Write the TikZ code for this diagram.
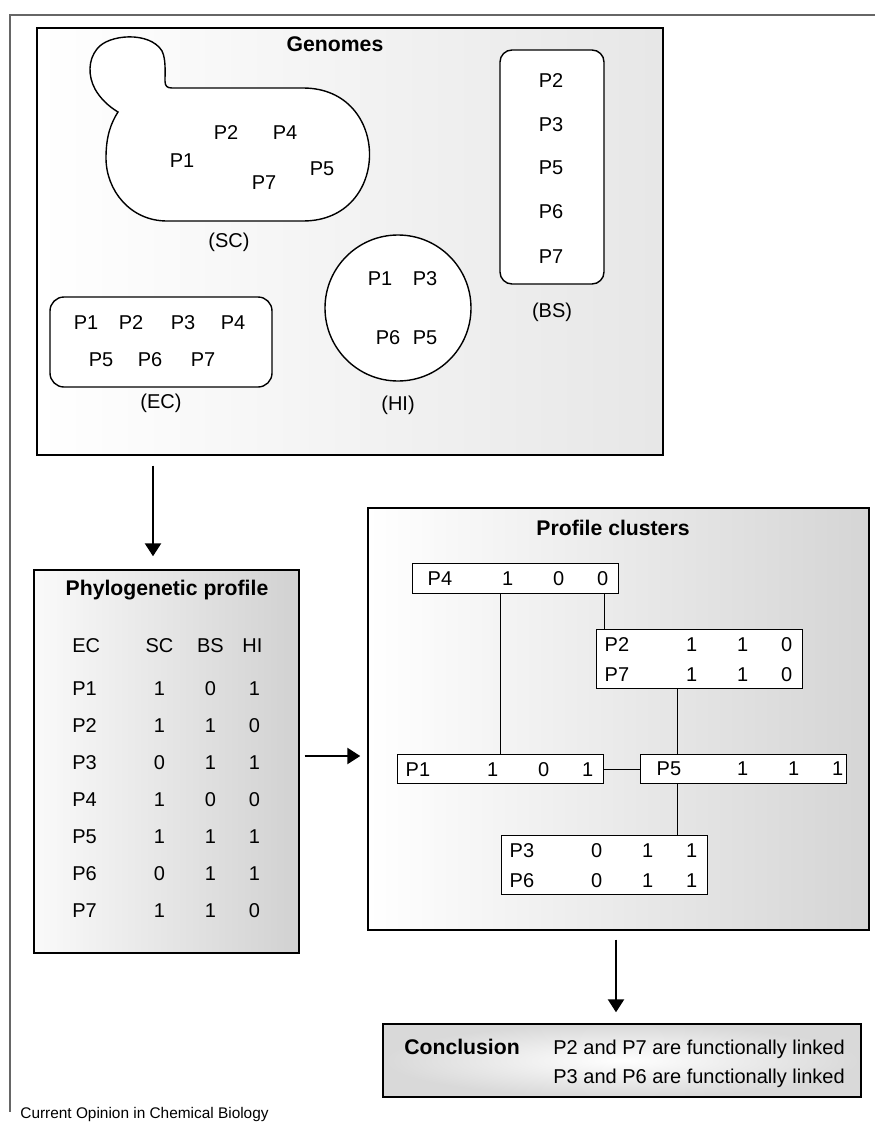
\documentclass[tikz,border=0pt]{standalone}
\usepackage{fontspec}
\setmainfont{Liberation Sans}
\usepackage{tikz}
\usetikzlibrary{positioning,arrows.meta}

% one row of a profile: label, then the three columns SC, BS, HI
\newcommand{\profrow}[5][4pt]{\makebox[47.5pt][l]{\hspace{#1}#2}\makebox[0pt]{#3}\hspace{25.5pt}\makebox[0pt]{#4}\hspace{22pt}\makebox[0pt]{#5}}

\begin{document}
\begin{tikzpicture}[
  x=0.5pt, y=-0.5pt,
  every node/.style={font=\fontsize{10}{15}\selectfont},
  lbl/.style={inner sep=0pt},
  ttl/.style={inner sep=0pt, font=\fontsize{10.6}{12}\selectfont\bfseries},
  panel/.style={draw=black, line width=0.7pt, inner sep=0pt},
  genbox/.style={draw=black, fill=white, line width=0.7pt, inner sep=0pt},
  cell/.style={draw=black, fill=white, line width=0.7pt},
  clbox/.style={draw=black, fill=white, line width=0.7pt, anchor=north west,
    inner xsep=0pt, inner ysep=0pt, text width=103pt, align=left},
  link/.style={draw=black, line width=0.7pt},
  arr/.style={-{Triangle[width=8pt,length=6.5pt]}, line width=1.2pt},
  figframe/.style={draw=black!60, line width=0.8pt},
]
\useasboundingbox (0,0) rectangle (875,1124);

% --- Outer frame ---
\draw[figframe] (875,15) -- (10,15) -- (10,1112);

% --- Genomes panel ---
\node[panel, left color=white, right color=gray!19,
  minimum width=313pt, minimum height=213.5pt] (genomes) at (350,241.5) {};
\node[ttl] (genttl) at (335,44) {Genomes};

% yeast cell (SC)
\draw[cell] (172,88) -- (303,88)
  .. controls (391.7,88) and (391.7,221) .. (303,221) -- (167,221)
  .. controls (130,221) and (106,190) .. (106,158)
  .. controls (106,136) and (111,123) .. (118,112)
  .. controls (108,106) and (100,98) .. (95,89)
  .. controls (88,76) and (88,60) .. (97,49)
  .. controls (108,34) and (150,31) .. (162,51)
  .. controls (166,59) and (165,72) .. (165,81)
  .. controls (165,86) and (167,88) .. (172,88) -- cycle;
\node[lbl] (sc1) at (182,161) {P1};
\node[lbl] (sc2) at (226,133) {P2};
\node[lbl] (sc4) at (285,133) {P4};
\node[lbl] (sc7) at (264,183) {P7};
\node[lbl] (sc5) at (322,169) {P5};
\coordinate (scbot) at (229,221);
\node[lbl, below=6pt of scbot] (sclbl) {(SC)};

% BS
\node[genbox, rounded corners=6pt, minimum width=52pt, minimum height=117pt] (bs) at (552,167) {};
\node[lbl] (bs2) at (551,81) {P2};
\node[lbl] (bs3) at (551,125) {P3};
\node[lbl] (bs5) at (551,168) {P5};
\node[lbl] (bs6) at (551,212) {P6};
\node[lbl] (bs7) at (551,257) {P7};
\node[lbl, below=9pt of bs] (bslbl) {(BS)};

% HI
\node[genbox, circle, minimum size=73pt] (hi) at (398,308) {};
\node[lbl] (hi1) at (380,279) {P1};
\node[lbl] (hi3) at (425,279) {P3};
\node[lbl] (hi6) at (388,338) {P6};
\node[lbl] (hi5) at (425,338) {P5};
\node[lbl, below=7pt of hi] (hilbl) {(HI)};

% EC
\node[genbox, rounded corners=7pt, minimum width=111pt, minimum height=45pt] (ec) at (161,342) {};
\node[lbl] (ec1) at (86,323) {P1};
\node[lbl] (ec2) at (131,323) {P2};
\node[lbl] (ec3) at (183,323) {P3};
\node[lbl] (ec4) at (233,323) {P4};
\node[lbl] (ec5) at (101,360) {P5};
\node[lbl] (ec6) at (150,360) {P6};
\node[lbl] (ec7) at (203,360) {P7};
\node[lbl, below=3pt of ec] (eclbl) {(EC)};

% --- Phylogenetic profile panel ---
\node[panel, left color=gray!4, right color=gray!36,
  minimum width=132.5pt, minimum height=191.5pt] (phylo) at (166.5,761.5) {};
\node[ttl] (phyttl) at (167,590) {Phylogenetic profile};
\node[lbl, anchor=base west] (hdr) at (64,652) {\profrow{EC}{SC}{BS}{\kern-2pt HI}};
\node[lbl, anchor=base west] (r1) at (64,695) {\profrow{P1}{1}{0}{1}};
\node[lbl, anchor=base west] (r2) at (64,732) {\profrow{P2}{1}{1}{0}};
\node[lbl, anchor=base west] (r3) at (64,769) {\profrow{P3}{0}{1}{1}};
\node[lbl, anchor=base west] (r4) at (64,806) {\profrow{P4}{1}{0}{0}};
\node[lbl, anchor=base west] (r5) at (64,843) {\profrow{P5}{1}{1}{1}};
\node[lbl, anchor=base west] (r6) at (64,880) {\profrow{P6}{0}{1}{1}};
\node[lbl, anchor=base west] (r7) at (64,917) {\profrow{P7}{1}{1}{0}};

% --- Profile clusters panel ---
\node[panel, left color=white, right color=gray!33,
  minimum width=250.5pt, minimum height=211pt] (clusters) at (618.5,719) {};
\node[ttl] (clttl) at (613,528) {Profile clusters};

\node[clbox, minimum height=15pt] (p4box) at (412,563) {\profrow[7.5pt]{P4}{1}{0}{0}};
\node[clbox, minimum height=29.5pt] (p27box) at (596,629) {\profrow{P2}{1}{1}{0}\\\profrow{P7}{1}{1}{0}};
\node[clbox, minimum height=14.5pt] (p1box) at (397,754) {\profrow{P1}{1}{0}{1}};
\node[clbox, minimum height=14.5pt] (p5box) at (640,754) {\hspace*{3.5pt}\profrow[4.5pt]{P5}{1}{1}{1}};
\node[clbox, minimum height=29.5pt] (p36box) at (501,835) {\profrow{P3}{0}{1}{1}\\\profrow{P6}{0}{1}{1}};

% tree links
\coordinate (j1) at ([xshift=-7.5pt]p4box.south east);
\coordinate (j2) at ([xshift=-11pt]p27box.south);
\draw[link] (p4box.south -| p1box.north) -- (p1box.north);
\draw[link] (j1) -- (j1 |- p27box.north);
\draw[link] (j2) -- (j2 |- p5box.north);
\draw[link] (j2 |- p5box.south) -- (j2 |- p36box.north);
\draw[link] (p1box.east) -- (p5box.west);

% --- Conclusion ---
\node[panel, shading=radial, inner color=white, outer color=gray!30,
  minimum width=239pt, minimum height=36.5pt] (concl) at (622,1060.5) {};
\node[ttl] (conttl) at (462,1047) {Conclusion};
\node[lbl, anchor=north west, align=left, font=\fontsize{10}{14.5}\selectfont] (conctxt) at (553,1040)
  {P2 and P7 are functionally linked\\P3 and P6 are functionally linked};

% --- Arrows between panels ---
\draw[arr] ([xshift=-98.5pt,yshift=-5pt]genomes.south) -- ([xshift=-6.75pt,yshift=6.5pt]phylo.north);
\coordinate (a2) at ([xshift=2.5pt,yshift=2.75pt]phylo.east);
\draw[arr, shorten >=3.5pt] (a2) -- (a2 -| clusters.west);
\coordinate (a3) at ([xshift=-1.25pt,yshift=-4.5pt]clusters.south);
\draw[arr, shorten >=5.5pt] (a3) -- (a3 |- concl.north);

\node[lbl, anchor=base west, font=\fontsize{7.7}{9}\selectfont] (credit) at (20,1118) {Current Opinion in Chemical Biology};
\end{tikzpicture}
\end{document}
